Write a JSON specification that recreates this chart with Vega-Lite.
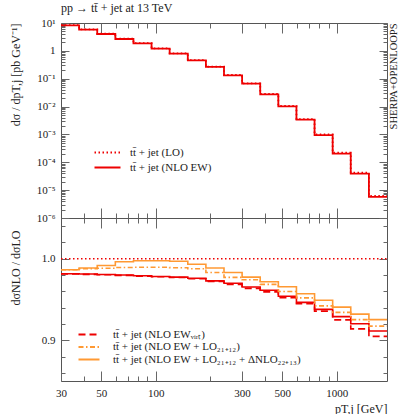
{
  "$schema": "https://vega.github.io/schema/vega-lite/v6.json",
  "autosize": "none",
  "width": 326,
  "height": 358,
  "padding": {"left": 61, "top": 23, "right": 12, "bottom": 33},
  "title": {"text": "pp → tt̄ + jet at 13 TeV", "anchor": "start", "frame": "group", "font": "Liberation Serif", "fontSize": 12, "fontWeight": "normal", "color": "#222", "offset": 2},
  "config": {
    "font": "Liberation Serif",
    "view": {"stroke": "#555", "strokeWidth": 1},
    "axis": {"grid": false, "domain": false, "tickColor": "#666", "tickWidth": 1, "labelFont": "Liberation Serif", "labelFontSize": 11, "labelColor": "#222", "titleFont": "Liberation Serif", "titleFontSize": 12, "titleFontWeight": "normal", "titleColor": "#222", "labelOverlap": false, "labelFlush": false},
    "legend": {"labelFont": "Liberation Serif", "labelFontSize": 11, "labelColor": "#222", "labelLimit": 400}
  },
  "datasets": {
    "top": [
      {"pt": 30, "v": 8.354, "s": "LO"}, {"pt": 37.77, "v": 5.86, "s": "LO"}, {"pt": 47.55, "v": 4.109, "s": "LO"}, {"pt": 59.86, "v": 2.725, "s": "LO"}, {"pt": 75.36, "v": 1.889, "s": "LO"}, {"pt": 94.87, "v": 1.227, "s": "LO"}, {"pt": 119.4, "v": 0.8082, "s": "LO"}, {"pt": 150.4, "v": 0.4662, "s": "LO"}, {"pt": 189.3, "v": 0.2714, "s": "LO"}, {"pt": 238.3, "v": 0.1361, "s": "LO"}, {"pt": 300, "v": 0.06858, "s": "LO"}, {"pt": 377.7, "v": 0.0285, "s": "LO"}, {"pt": 475.5, "v": 0.01059, "s": "LO"}, {"pt": 598.6, "v": 0.003571, "s": "LO"}, {"pt": 753.6, "v": 0.001002, "s": "LO"}, {"pt": 948.7, "v": 0.0002196, "s": "LO"}, {"pt": 1194, "v": 0.00004238, "s": "LO"}, {"pt": 1504, "v": 0.000006254, "s": "LO"}, {"pt": 1893, "v": 0.000006254, "s": "LO"},
      {"pt": 30, "v": 8.2, "s": "NLO"}, {"pt": 37.77, "v": 5.75, "s": "NLO"}, {"pt": 47.55, "v": 4.03, "s": "NLO"}, {"pt": 59.86, "v": 2.67, "s": "NLO"}, {"pt": 75.36, "v": 1.85, "s": "NLO"}, {"pt": 94.87, "v": 1.2, "s": "NLO"}, {"pt": 119.4, "v": 0.79, "s": "NLO"}, {"pt": 150.4, "v": 0.455, "s": "NLO"}, {"pt": 189.3, "v": 0.264, "s": "NLO"}, {"pt": 238.3, "v": 0.132, "s": "NLO"}, {"pt": 300, "v": 0.0662, "s": "NLO"}, {"pt": 377.7, "v": 0.0274, "s": "NLO"}, {"pt": 475.5, "v": 0.0101, "s": "NLO"}, {"pt": 598.6, "v": 0.00338, "s": "NLO"}, {"pt": 753.6, "v": 0.00094, "s": "NLO"}, {"pt": 948.7, "v": 0.000204, "s": "NLO"}, {"pt": 1194, "v": 0.000039, "s": "NLO"}, {"pt": 1504, "v": 0.0000057, "s": "NLO"}, {"pt": 1893, "v": 0.0000057, "s": "NLO"}
    ],
    "ratio": [
      {"pt": 30, "r": 1, "s": "LO"}, {"pt": 1893, "r": 1, "s": "LO"},
      {"pt": 30, "r": 0.9816, "s": "NLO"}, {"pt": 37.77, "r": 0.9812, "s": "NLO"}, {"pt": 47.55, "r": 0.9807, "s": "NLO"}, {"pt": 59.86, "r": 0.98, "s": "NLO"}, {"pt": 75.36, "r": 0.9791, "s": "NLO"}, {"pt": 94.87, "r": 0.9782, "s": "NLO"}, {"pt": 119.4, "r": 0.9775, "s": "NLO"}, {"pt": 150.4, "r": 0.976, "s": "NLO"}, {"pt": 189.3, "r": 0.9729, "s": "NLO"}, {"pt": 238.3, "r": 0.9699, "s": "NLO"}, {"pt": 300, "r": 0.9653, "s": "NLO"}, {"pt": 377.7, "r": 0.9613, "s": "NLO"}, {"pt": 475.5, "r": 0.954, "s": "NLO"}, {"pt": 598.6, "r": 0.9465, "s": "NLO"}, {"pt": 753.6, "r": 0.9379, "s": "NLO"}, {"pt": 948.7, "r": 0.929, "s": "NLO"}, {"pt": 1194, "r": 0.9203, "s": "NLO"}, {"pt": 1504, "r": 0.9114, "s": "NLO"}, {"pt": 1893, "r": 0.9114, "s": "NLO"},
      {"pt": 30, "r": 0.9812, "s": "virt"}, {"pt": 37.77, "r": 0.9808, "s": "virt"}, {"pt": 47.55, "r": 0.9803, "s": "virt"}, {"pt": 59.86, "r": 0.9796, "s": "virt"}, {"pt": 75.36, "r": 0.9787, "s": "virt"}, {"pt": 94.87, "r": 0.9779, "s": "virt"}, {"pt": 119.4, "r": 0.977, "s": "virt"}, {"pt": 150.4, "r": 0.9754, "s": "virt"}, {"pt": 189.3, "r": 0.9721, "s": "virt"}, {"pt": 238.3, "r": 0.9686, "s": "virt"}, {"pt": 300, "r": 0.9637, "s": "virt"}, {"pt": 377.7, "r": 0.9594, "s": "virt"}, {"pt": 475.5, "r": 0.9523, "s": "virt"}, {"pt": 598.6, "r": 0.9447, "s": "virt"}, {"pt": 753.6, "r": 0.9357, "s": "virt"}, {"pt": 948.7, "r": 0.925, "s": "virt"}, {"pt": 1194, "r": 0.9139, "s": "virt"}, {"pt": 1504, "r": 0.9047, "s": "virt"}, {"pt": 1893, "r": 0.9047, "s": "virt"},
      {"pt": 30, "r": 0.9865, "s": "lo21"}, {"pt": 37.77, "r": 0.9877, "s": "lo21"}, {"pt": 47.55, "r": 0.9883, "s": "lo21"}, {"pt": 59.86, "r": 0.9893, "s": "lo21"}, {"pt": 75.36, "r": 0.9895, "s": "lo21"}, {"pt": 94.87, "r": 0.9895, "s": "lo21"}, {"pt": 119.4, "r": 0.9889, "s": "lo21"}, {"pt": 150.4, "r": 0.9877, "s": "lo21"}, {"pt": 189.3, "r": 0.9832, "s": "lo21"}, {"pt": 238.3, "r": 0.9772, "s": "lo21"}, {"pt": 300, "r": 0.9742, "s": "lo21"}, {"pt": 377.7, "r": 0.9686, "s": "lo21"}, {"pt": 475.5, "r": 0.9598, "s": "lo21"}, {"pt": 598.6, "r": 0.952, "s": "lo21"}, {"pt": 753.6, "r": 0.9422, "s": "lo21"}, {"pt": 948.7, "r": 0.9342, "s": "lo21"}, {"pt": 1194, "r": 0.9253, "s": "lo21"}, {"pt": 1504, "r": 0.9173, "s": "lo21"}, {"pt": 1893, "r": 0.9173, "s": "lo21"},
      {"pt": 30, "r": 0.9865, "s": "dnlo"}, {"pt": 37.77, "r": 0.9886, "s": "dnlo"}, {"pt": 47.55, "r": 0.9918, "s": "dnlo"}, {"pt": 59.86, "r": 0.9963, "s": "dnlo"}, {"pt": 75.36, "r": 0.9975, "s": "dnlo"}, {"pt": 94.87, "r": 0.9975, "s": "dnlo"}, {"pt": 119.4, "r": 0.9969, "s": "dnlo"}, {"pt": 150.4, "r": 0.9932, "s": "dnlo"}, {"pt": 189.3, "r": 0.9886, "s": "dnlo"}, {"pt": 238.3, "r": 0.9832, "s": "dnlo"}, {"pt": 300, "r": 0.9775, "s": "dnlo"}, {"pt": 377.7, "r": 0.9717, "s": "dnlo"}, {"pt": 475.5, "r": 0.9656, "s": "dnlo"}, {"pt": 598.6, "r": 0.957, "s": "dnlo"}, {"pt": 753.6, "r": 0.949, "s": "dnlo"}, {"pt": 948.7, "r": 0.9407, "s": "dnlo"}, {"pt": 1194, "r": 0.9321, "s": "dnlo"}, {"pt": 1504, "r": 0.9253, "s": "dnlo"}, {"pt": 1893, "r": 0.9253, "s": "dnlo"}
    ]
  },
  "resolve": {"scale": {"y": "independent", "color": "independent", "strokeDash": "independent"}, "axis": {"x": "independent", "y": "independent"}, "legend": {"color": "independent", "strokeDash": "independent"}},
  "layer": [
    {
      "data": {"name": "top"},
      "mark": {"type": "line", "interpolate": "step-after", "strokeWidth": 1.8},
      "encoding": {
        "x": {"field": "pt", "type": "quantitative", "scale": {"type": "log", "domain": [30, 1893], "nice": false},
          "axis": {"orient": "bottom", "offset": -163, "domain": true, "domainColor": "#555", "values": [40, 50, 60, 70, 80, 90, 100, 200, 300, 400, 500, 600, 700, 800, 900, 1000], "labels": false, "title": null,
            "tickSize": {"condition": {"test": "indexof([50,100,300,500,1000], datum.value) >= 0", "value": -10}, "value": -5}}},
        "y": {"field": "v", "type": "quantitative", "scale": {"type": "log", "domain": [0.000001, 10], "nice": false, "range": [195, 0]},
          "axis": {"orient": "left", "title": "dσ / dpT,j [pb GeV⁻¹]", "titleAnchor": "end", "titlePadding": 11, "labelPadding": 14, "minExtent": 28, "maxExtent": 28,
            "values": [0.000001,0.000002,0.000003,0.000004,0.000005,0.000006,0.000007,0.000008,0.000009,0.00001,0.00002,0.00003,0.00004,0.00005,0.00006,0.00007,0.00008,0.00009,0.0001,0.0002,0.0003,0.0004,0.0005,0.0006,0.0007,0.0008,0.0009,0.001,0.002,0.003,0.004,0.005,0.006,0.007,0.008,0.009,0.01,0.02,0.03,0.04,0.05,0.06,0.07,0.08,0.09,0.1,0.2,0.3,0.4,0.5,0.6,0.7,0.8,0.9,1,2,3,4,5,6,7,8,9,10],
            "labelExpr": "datum.value == 10 ? '10¹' : datum.value == 1 ? '1' : datum.value == 0.1 ? '10⁻¹' : datum.value == 0.01 ? '10⁻²' : datum.value == 0.001 ? '10⁻³' : datum.value == 0.0001 ? '10⁻⁴' : datum.value == 0.00001 ? '10⁻⁵' : datum.value == 0.000001 ? '10⁻⁶' : ''",
            "tickSize": {"condition": {"test": "indexof([0.000001,0.00001,0.0001,0.001,0.01,0.1,1,10], datum.value) >= 0", "value": -8}, "value": -4}}},
        "color": {"field": "s", "type": "nominal", "scale": {"domain": ["LO", "NLO"], "range": ["#ee0000", "#ee0000"]},
          "legend": {"orient": "none", "legendX": 41, "legendY": 124, "title": null, "symbolType": "M-3.25,0H3.25", "symbolSize": 64, "symbolStrokeWidth": 1.8, "symbolFillColor": "transparent", "labelOffset": 17, "rowPadding": 3,
            "labelExpr": "datum.label == 'LO' ? 'tt̄ + jet (LO)' : 'tt̄ + jet (NLO EW)'"}},
        "strokeDash": {"field": "s", "type": "nominal", "scale": {"domain": ["LO", "NLO"], "range": [[1.5, 2.5], [1, 0]]},
          "legend": {"orient": "none", "legendX": 41, "legendY": 124, "title": null, "symbolType": "M-3.25,0H3.25", "symbolSize": 64, "symbolStrokeWidth": 1.8, "symbolFillColor": "transparent", "labelOffset": 17, "rowPadding": 3,
            "labelExpr": "datum.label == 'LO' ? 'tt̄ + jet (LO)' : 'tt̄ + jet (NLO EW)'"}}
      }
    },
    {
      "data": {"name": "top"},
      "mark": {"type": "line", "opacity": 0},
      "encoding": {
        "x": {"field": "pt", "type": "quantitative", "scale": {"type": "log", "domain": [30, 1893], "nice": false},
          "axis": {"orient": "top", "values": [40, 50, 60, 70, 80, 90, 100, 200, 300, 400, 500, 600, 700, 800, 900, 1000], "labels": false, "title": null,
            "tickSize": {"condition": {"test": "indexof([50,100,300,500,1000], datum.value) >= 0", "value": -10}, "value": -5}}},
        "y": {"field": "v", "type": "quantitative", "scale": {"type": "log", "domain": [0.000001, 10], "nice": false, "range": [195, 0]},
          "axis": {"orient": "right", "labels": false, "title": "SHERPA+OPENLOOPS", "titleFontSize": 10.5, "titleAngle": 270, "titleAnchor": "end", "titleBaseline": "top", "titlePadding": 1,
            "values": [0.000001,0.000002,0.000003,0.000004,0.000005,0.000006,0.000007,0.000008,0.000009,0.00001,0.00002,0.00003,0.00004,0.00005,0.00006,0.00007,0.00008,0.00009,0.0001,0.0002,0.0003,0.0004,0.0005,0.0006,0.0007,0.0008,0.0009,0.001,0.002,0.003,0.004,0.005,0.006,0.007,0.008,0.009,0.01,0.02,0.03,0.04,0.05,0.06,0.07,0.08,0.09,0.1,0.2,0.3,0.4,0.5,0.6,0.7,0.8,0.9,1,2,3,4,5,6,7,8,9,10],
            "tickSize": {"condition": {"test": "indexof([0.000001,0.00001,0.0001,0.001,0.01,0.1,1,10], datum.value) >= 0", "value": -8}, "value": -4}}}
      }
    },
    {
      "data": {"name": "ratio"},
      "transform": [{"filter": "datum.s == 'LO'"}],
      "mark": {"type": "line", "interpolate": "step-after", "color": "#ee0000", "strokeDash": [1.5, 2.5], "strokeWidth": 1.6},
      "encoding": {
        "x": {"field": "pt", "type": "quantitative", "scale": {"type": "log", "domain": [30, 1893], "nice": false},
          "axis": {"orient": "top", "offset": -195, "values": [40, 50, 60, 70, 80, 90, 100, 200, 300, 400, 500, 600, 700, 800, 900, 1000], "labels": false, "title": null,
            "tickSize": {"condition": {"test": "indexof([50,100,300,500,1000], datum.value) >= 0", "value": -10}, "value": -5}}},
        "y": {"field": "r", "type": "quantitative", "scale": {"domain": [0.85, 1.05], "nice": false, "zero": false, "range": [358, 195]},
          "axis": {"orient": "right", "labels": false, "title": null, "values": [0.86, 0.88, 0.9, 0.92, 0.94, 0.96, 0.98, 1, 1.02, 1.04],
            "tickSize": {"condition": {"test": "datum.value == 0.9 || datum.value == 1", "value": -8}, "value": -4}}}
      }
    },
    {
      "data": {"name": "ratio"},
      "transform": [{"filter": "datum.s == 'NLO'"}],
      "mark": {"type": "line", "interpolate": "step-after", "color": "#ee0000", "strokeWidth": 1.6},
      "encoding": {
        "x": {"field": "pt", "type": "quantitative", "scale": {"type": "log", "domain": [30, 1893], "nice": false}, "axis": null},
        "y": {"field": "r", "type": "quantitative", "scale": {"domain": [0.85, 1.05], "nice": false, "zero": false, "range": [358, 195]}, "axis": null}
      }
    },
    {
      "data": {"name": "ratio"},
      "transform": [{"filter": "datum.s != 'LO' && datum.s != 'NLO'"}],
      "mark": {"type": "line", "interpolate": "step-after", "strokeWidth": 1.6},
      "encoding": {
        "x": {"field": "pt", "type": "quantitative", "scale": {"type": "log", "domain": [30, 1893], "nice": false},
          "axis": {"orient": "bottom", "values": [30, 40, 50, 60, 70, 80, 90, 100, 200, 300, 400, 500, 600, 700, 800, 900, 1000], "format": "d", "labelPadding": 16,
            "labelExpr": "indexof([30,50,100,300,500,1000], datum.value) >= 0 ? datum.label : ''",
            "title": "pT,j [GeV]", "titleAnchor": "end", "titlePadding": 0,
            "tickSize": {"condition": {"test": "indexof([30,50,100,300,500,1000], datum.value) >= 0", "value": -10}, "value": -5}}},
        "y": {"field": "r", "type": "quantitative", "scale": {"domain": [0.85, 1.05], "nice": false, "zero": false, "range": [358, 195]},
          "axis": {"orient": "left", "values": [0.86, 0.88, 0.9, 0.92, 0.94, 0.96, 0.98, 1, 1.02, 1.04], "labelPadding": 14, "minExtent": 28, "maxExtent": 28,
            "labelExpr": "datum.value == 1 ? '1.0' : datum.value == 0.9 ? '0.9' : ''",
            "title": "dσNLO / dσLO", "titleAnchor": "end", "titleY": 207, "titlePadding": 11,
            "tickSize": {"condition": {"test": "datum.value == 0.9 || datum.value == 1", "value": -8}, "value": -4}}},
        "color": {"field": "s", "type": "nominal", "scale": {"domain": ["virt", "lo21", "dnlo"], "range": ["#ee0000", "#ff9933", "#ff9933"]},
          "legend": {"orient": "none", "legendX": 22.5, "legendY": 306, "title": null, "symbolType": "M-2.625,0H2.625", "symbolSize": 64, "symbolStrokeWidth": 1.8, "symbolFillColor": "transparent", "labelOffset": 18.5, "rowPadding": 0.5,
            "labelExpr": "datum.label == 'virt' ? 'tt̄ + jet (NLO EWᵥᵢᵣₜ)' : datum.label == 'lo21' ? 'tt̄ + jet (NLO EW + LO₂₁₊₁₂)' : 'tt̄ + jet (NLO EW + LO₂₁₊₁₂ + ΔNLO₂₂₊₁₃)'"}},
        "strokeDash": {"field": "s", "type": "nominal", "scale": {"domain": ["virt", "lo21", "dnlo"], "range": [[7, 4], [5, 2.5, 1.5, 2.5], [1, 0]]},
          "legend": {"orient": "none", "legendX": 22.5, "legendY": 306, "title": null, "symbolType": "M-2.625,0H2.625", "symbolSize": 64, "symbolStrokeWidth": 1.8, "symbolFillColor": "transparent", "labelOffset": 18.5, "rowPadding": 0.5,
            "labelExpr": "datum.label == 'virt' ? 'tt̄ + jet (NLO EWᵥᵢᵣₜ)' : datum.label == 'lo21' ? 'tt̄ + jet (NLO EW + LO₂₁₊₁₂)' : 'tt̄ + jet (NLO EW + LO₂₁₊₁₂ + ΔNLO₂₂₊₁₃)'"}}
      }
    }
  ]
}
